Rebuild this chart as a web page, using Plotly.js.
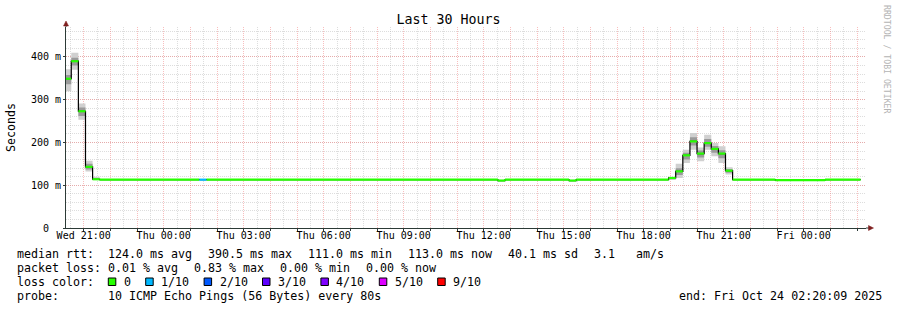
<!DOCTYPE html>
<html>
<head>
<meta charset="utf-8">
<script src="https://cdn.plot.ly/plotly-3.0.1.min.js"></script>
<style>html,body{margin:0;padding:0;background:#fff;}#chart{width:897px;height:310px;}</style>
</head>
<body>
<div id="chart"></div>
<script>
// ---------- data ----------
const stepStart = [
  '2025-10-22 20:16', '2025-10-22 20:32', '2025-10-22 20:48', '2025-10-22 21:04', '2025-10-22 21:20', '2025-10-22 21:36',
  '2025-10-23 01:20', '2025-10-23 01:36', '2025-10-23 12:32', '2025-10-23 12:48', '2025-10-23 15:12', '2025-10-23 15:28',
  '2025-10-23 18:56', '2025-10-23 19:12', '2025-10-23 19:28', '2025-10-23 19:44', '2025-10-23 20:00', '2025-10-23 20:16',
  '2025-10-23 20:32', '2025-10-23 20:48', '2025-10-23 21:04', '2025-10-23 21:20', '2025-10-23 22:56', '2025-10-24 00:48'
];
const dataEnd = '2025-10-24 02:08';
const medianMs = [349, 390, 273, 143, 114, 113, 113, 113, 111, 113, 111, 113,
                  117, 132.5, 170, 202.5, 174, 198.6, 185, 174, 134, 113, 112, 113];
const smokeMin = [320, 370, 253, 132, 112, 112, 112, 112, 110, 112, 110, 112,
                  113, 117, 152, 183, 156, 183, 168, 152, 125, 112, 111, 112];
const smokeLo  = [336, 380, 262, 137, 113, 112.5, 112.5, 112.5, 110.5, 112.5, 110.5, 112.5,
                  114, 124, 160, 193, 165, 190, 176, 163, 129, 112.5, 111.5, 112.5];
const smokeHi  = [358, 398, 282, 150, 116, 113.5, 113.5, 113.5, 111.5, 113.5, 111.5, 113.5,
                  118, 140, 176, 212, 181, 208, 192, 182, 138, 113.5, 112.5, 113.5];
const smokeMax = [371, 410, 291, 157, 120, 114, 114, 114, 112, 114, 112, 114,
                  119, 150, 183, 222, 188, 218, 199, 191, 142, 114, 113, 114];
const lossTenths = [0, 0, 0, 0, 0, 0, 1, 0, 0, 0, 0, 0,
                    0, 0, 0, 0, 0, 0, 0, 0, 0, 0, 0, 0];

const yTickVals = [0, 100, 200, 300, 400];
const yTickText = ['0  ', '100 m', '200 m', '300 m', '400 m'];

const lossLevels = [0, 1, 2, 3, 4, 5, 9];
const lossLabels = ['0', '1/10', '2/10', '3/10', '4/10', '5/10', '9/10'];
const lossColors = ['#26ff00', '#00b8ff', '#0059ff', '#5e00ff', '#7e00ff', '#dd00ff', '#ff0000'];

const rttStats  = ['124.0 ms avg', '390.5 ms max', '111.0 ms min', '113.0 ms now', '40.1 ms sd', '3.1   am/s'];
const lossStats = ['0.01 % avg', '0.83 % max', '0.00 % min', '0.00 % now'];
const probeText = '10 ICMP Echo Pings (56 Bytes) every 80s';
const endText   = 'end: Fri Oct 24 02:20:09 2025';

// ---------- layout constants ----------
const W = 897, H = 310, L = 66, R = 31, T = 27, B = 82;
const PW = W - L - R, PH = H - T - B;
const px2x = p => (p - L) / PW;
const py2y = p => (H - B - p) / PH;
const MONO = 'DejaVu Sans Mono';
const CH = 7.0, GAP = 16, FS = 11.65;
const nb = s => s.replace(/ /g, '\u00a0');

const stepX = stepStart.concat([dataEnd]);
const ext = a => a.concat([a[a.length - 1]]);

const traces = [];
function band(lo, hi, color) {
  traces.push({x: stepX, y: ext(lo), type: 'scatter', mode: 'lines', line: {width: 0, shape: 'hv'}, hoverinfo: 'skip', showlegend: false});
  traces.push({x: stepX, y: ext(hi), type: 'scatter', mode: 'lines', line: {width: 0, shape: 'hv'}, fill: 'tonexty', fillcolor: color, hoverinfo: 'skip', showlegend: false});
}
band(smokeMin, smokeMax, '#d0d0d0');
band(smokeLo, smokeHi, '#9a9a9a');

// median step line (drawn on the overlaying labelled time axis, same range)
traces.push({x: stepX, y: ext(medianMs), xaxis: 'x2', type: 'scatter', mode: 'lines', line: {color: '#000000', width: 1.2, shape: 'hv'}, showlegend: false});

lossLevels.forEach((lv, k) => {
  const xs = [], ys = [];
  for (let i = 0; i < stepStart.length; i++) {
    if (lossTenths[i] === lv) {
      xs.push(stepX[i], stepX[i + 1], null);
      ys.push(medianMs[i], medianMs[i], null);
    }
  }
  if (xs.length) traces.push({x: xs, y: ys, xaxis: 'x2', type: 'scatter', mode: 'lines', line: {color: lossColors[k], width: 2.2}, connectgaps: false, showlegend: false});
});

// ---------- annotations ----------
const ann = [];
function txt(px, py, s, opts) {
  ann.push(Object.assign({xref: 'paper', yref: 'paper', x: px2x(px), y: py2y(py), text: nb(s), showarrow: false,
    xanchor: 'left', yanchor: 'middle', borderpad: 0, font: {family: MONO, size: FS, color: '#000'}}, opts || {}));
}
const lineY = [254.3, 268.3, 282, 296.3];
const col1 = 107.3;
txt(16, lineY[0], 'median rtt:');
let xp = col1;
rttStats.forEach(s => { txt(xp, lineY[0], s); xp += s.length * CH + GAP; });
txt(16, lineY[1], 'packet loss:');
xp = col1;
lossStats.forEach(s => { txt(xp, lineY[1], s); xp += s.length * CH + GAP; });
txt(16, lineY[2], 'loss color:');
const shapes = [];
xp = 108.3;
lossLabels.forEach((s, k) => {
  shapes.push({type: 'rect', xref: 'paper', yref: 'paper', x0: px2x(xp), x1: px2x(xp + 7.5), y0: py2y(285.5), y1: py2y(278),
    fillcolor: lossColors[k], line: {color: '#000', width: 1}});
  const tx = xp + 14.4;
  txt(tx, lineY[2], s);
  xp = tx + s.length * CH + GAP;
});
txt(16, lineY[3], 'probe:');
txt(col1, lineY[3], probeText);
txt(678.3, lineY[3], endText);

// y title and watermark
ann.push({xref: 'paper', yref: 'paper', x: px2x(10.5), y: py2y(127.5), text: 'Seconds', textangle: -90, showarrow: false,
  xanchor: 'center', yanchor: 'middle', font: {family: MONO, size: FS, color: '#000'}});
ann.push({xref: 'paper', yref: 'paper', x: px2x(887), y: py2y(59), text: nb('RRDTOOL / TOBI OETIKER'), textangle: 90, showarrow: false,
  xanchor: 'center', yanchor: 'middle', font: {family: MONO, size: 8.2, color: '#b4b4b4'}});

// axis arrows
const AX = '#2c3a36', AR = '#7f1f1f';
shapes.push({type: 'line', xref: 'paper', yref: 'paper', x0: px2x(866), x1: px2x(869), y0: 0, y1: 0, line: {color: AX, width: 1}});
shapes.push({type: 'path', xref: 'paper', yref: 'paper', fillcolor: AR, line: {color: AR, width: 0.5},
  path: `M ${px2x(868.5)},${py2y(225.5)} L ${px2x(873.5)},${py2y(228)} L ${px2x(868.5)},${py2y(230.5)} Z`});
shapes.push({type: 'line', xref: 'paper', yref: 'paper', x0: 0, x1: 0, y0: 1, y1: py2y(25), line: {color: AX, width: 1}});
shapes.push({type: 'path', xref: 'paper', yref: 'paper', fillcolor: AR, line: {color: AR, width: 0.5},
  path: `M ${px2x(63.5)},${py2y(26)} L ${px2x(66)},${py2y(21)} L ${px2x(68.5)},${py2y(26)} Z`});

const RED = 'rgba(240,110,110,0.45)', GREY = 'rgba(175,175,175,0.42)';
const xRange = ['2025-10-22 20:20:09', '2025-10-24 02:20:09'];
const layout = {
  width: W, height: H,
  margin: {l: L, r: R, t: T, b: B, pad: 0},
  paper_bgcolor: '#ffffff', plot_bgcolor: '#ffffff',
  showlegend: false, hovermode: false,
  title: {text: 'Last 30 Hours', font: {family: MONO, size: 13.3, color: '#000'}, x: 0.5, xref: 'container', xanchor: 'center',
    y: 1 - 19 / H, yref: 'container', yanchor: 'middle'},
  xaxis: {type: 'date', range: xRange, tickmode: 'linear', tick0: '2025-10-22 21:00', dtick: 3600000,
    showticklabels: false, ticks: 'outside', ticklen: 2, tickcolor: AX, showgrid: true, gridcolor: RED, griddash: '1px,1px', gridwidth: 1,
    minor: {tick0: '2025-10-22 20:30', dtick: 1800000, showgrid: true, gridcolor: GREY, griddash: '1px,1px', gridwidth: 1, ticks: ''},
    showline: true, linecolor: AX, linewidth: 1, zeroline: false, fixedrange: true},
  xaxis2: {type: 'date', range: xRange, overlaying: 'x', side: 'bottom', anchor: 'y', tickmode: 'linear',
    tick0: '2025-10-22 21:00', dtick: 3 * 3600000, tickformat: '%a %H:%M', showgrid: false, zeroline: false,
    ticks: '', showline: false,
    tickfont: {family: MONO, size: 10, color: '#000'}},
  yaxis: {range: [0, 470], tickmode: 'array', tickvals: yTickVals, ticktext: yTickText.map(nb),
    tickfont: {family: MONO, size: 10, color: '#000'}, ticks: 'outside', ticklen: 2, tickcolor: AX,
    showgrid: true, gridcolor: RED, griddash: '1px,1px', gridwidth: 1,
    minor: {dtick: 20, showgrid: true, gridcolor: GREY, griddash: '1px,1px', gridwidth: 1, ticks: ''},
    showline: true, linecolor: AX, linewidth: 1, zeroline: false, fixedrange: true},
  annotations: ann,
  shapes: shapes
};
Plotly.newPlot('chart', traces, layout, {staticPlot: true, displayModeBar: false});
</script>
</body>
</html>
